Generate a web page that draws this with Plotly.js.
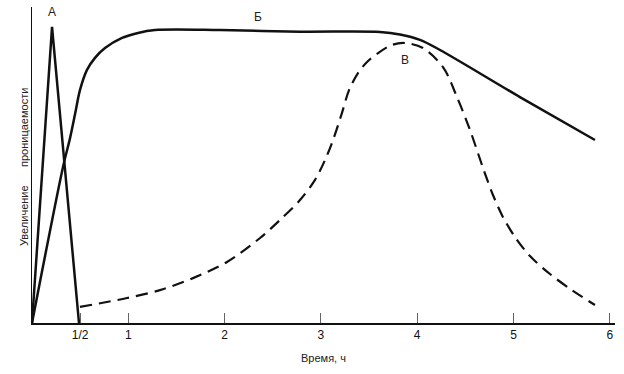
<!DOCTYPE html>
<html>
<head>
<meta charset="utf-8">
<script src="https://cdn.plot.ly/plotly-3.0.1.min.js"></script>
<style>html,body{margin:0;padding:0;background:#fff;}#chart{width:624px;height:374px;}</style>
</head>
<body>
<div id="chart"></div>
<script>
// Time in hours, permeability increase in relative units (0..100)
const timeA = [0, 0.208, 0.488];
const valA  = [0, 93.7, 0];

const timeB = [0, 0.322, 0.395, 0.447, 0.498, 0.571, 0.654, 0.758, 0.935, 1.101, 1.277, 1.952, 2.783, 3.614, 3.821, 4.029, 4.237, 5.067, 5.846];
const valB  = [0, 49.4, 58.5, 66.1, 73.7, 80.1, 83.9, 87.0, 90.2, 91.8, 92.7, 92.7, 92.2, 92.1, 91.3, 89.6, 86.4, 71.5, 57.9];

const timeV = [0.498, 0.987, 1.329, 1.672, 2.025, 2.368, 2.575, 2.783, 2.939, 3.043, 3.126, 3.219, 3.292, 3.385, 3.479, 3.593, 3.738, 3.873, 4.060, 4.268, 4.413, 4.548, 4.683, 4.787, 4.891, 5.016, 5.171, 5.379, 5.607, 5.846];
const valV  = [5.1, 7.9, 10.4, 14.2, 19.3, 26.9, 32.6, 38.9, 45.3, 51.6, 57.9, 66.5, 73.7, 79.1, 82.6, 85.4, 88.0, 88.6, 87.0, 81.0, 71.5, 61.1, 49.1, 40.5, 33.5, 27.2, 21.2, 15.5, 10.4, 5.7];

const tickVals = [0.5, 1, 2, 3, 4, 5, 6];
const tickText = ['1/2', '1', '2', '3', '4', '5', '6'];

const curveLabels = ['А', 'Б', 'В'];
const labelX = [0.208, 2.347, 3.873];
const labelY = [98.4, 96.8, 83.2];

const font = 'Liberation Sans, Arial, sans-serif';

const traces = [
  {x: timeA, y: valA, mode: 'lines', line: {color: '#111', width: 2.5}, hoverinfo: 'skip'},
  {x: timeB, y: valB, mode: 'lines', line: {color: '#111', width: 2.5, shape: 'spline', smoothing: 0.9}, hoverinfo: 'skip'},
  {x: timeV, y: valV, mode: 'lines', line: {color: '#111', width: 2.2, dash: '12px,7px', shape: 'spline', smoothing: 0.9}, hoverinfo: 'skip'}
];

const annotations = curveLabels.map((t, i) => ({
  x: labelX[i], y: labelY[i], xref: 'x', yref: 'y', text: t, showarrow: false,
  font: {family: font, size: 12, color: '#222'}
}));
annotations.push(
  {x: 16, y: 216, xref: 'paper', yref: 'paper', text: 'Увеличение', showarrow: false, textangle: -90,
   font: {family: font, size: 11, color: '#222'}},
  {x: 16, y: 128, xref: 'paper', yref: 'paper', text: 'проницаемости', showarrow: false, textangle: -90,
   font: {family: font, size: 11, color: '#222'}}
);
// convert pixel positions of y-title words into paper coords
annotations.forEach(a => {
  if (a.xref === 'paper') {
    a.x = (a.x - 32) / (624 - 32 - 9);
    a.y = (323 - a.y) / (323 - 7);
  }
});

const layout = {
  width: 624, height: 374,
  margin: {l: 32, r: 9, t: 7, b: 51},
  paper_bgcolor: '#fff', plot_bgcolor: '#fff',
  showlegend: false,
  xaxis: {
    range: [0, 6.054], showgrid: false, zeroline: false,
    showline: true, linecolor: '#111', linewidth: 2,
    tickmode: 'array', tickvals: tickVals, ticktext: tickText,
    ticks: 'inside', ticklen: 10, tickwidth: 1, tickcolor: '#666',
    tickfont: {family: font, size: 12, color: '#111'},
    title: {text: 'Время, ч', font: {family: font, size: 11, color: '#222'}, standoff: 13}
  },
  yaxis: {
    range: [0, 100], showgrid: false, zeroline: false,
    showline: true, linecolor: '#111', linewidth: 1.5,
    showticklabels: false, ticks: ''
  },
  annotations: annotations
};

Plotly.newPlot('chart', traces, layout, {displayModeBar: false, staticPlot: true});
</script>
</body>
</html>
